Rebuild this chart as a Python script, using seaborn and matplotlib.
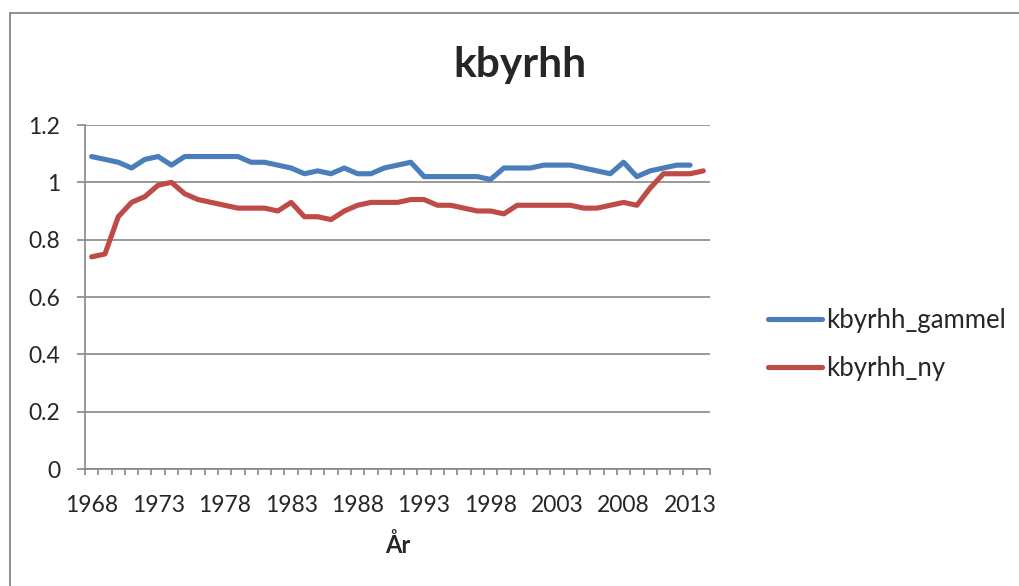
import numpy as np
import pandas as pd
import matplotlib
matplotlib.use("Agg")
import matplotlib.pyplot as plt
from matplotlib.patches import Rectangle
from matplotlib.ticker import FuncFormatter, MultipleLocator
import seaborn as sns

# --- data ---
years_gammel = list(range(1968, 2014))
kbyrhh_gammel = [1.09, 1.08, 1.07, 1.05, 1.08, 1.09, 1.06, 1.09, 1.09, 1.09,
                 1.09, 1.09, 1.07, 1.07, 1.06, 1.05, 1.03, 1.04, 1.03, 1.05,
                 1.03, 1.03, 1.05, 1.06, 1.07, 1.02, 1.02, 1.02, 1.02, 1.02,
                 1.01, 1.05, 1.05, 1.05, 1.06, 1.06, 1.06, 1.05, 1.04, 1.03,
                 1.07, 1.02, 1.04, 1.05, 1.06, 1.06]
years_ny = list(range(1968, 2015))
kbyrhh_ny = [0.74, 0.75, 0.88, 0.93, 0.95, 0.99, 1.00, 0.96, 0.94, 0.93,
             0.92, 0.91, 0.91, 0.91, 0.90, 0.93, 0.88, 0.88, 0.87, 0.90,
             0.92, 0.93, 0.93, 0.93, 0.94, 0.94, 0.92, 0.92, 0.91, 0.90,
             0.90, 0.89, 0.92, 0.92, 0.92, 0.92, 0.92, 0.91, 0.91, 0.92,
             0.93, 0.92, 0.98, 1.03, 1.03, 1.03, 1.04]
series_names = ["kbyrhh_gammel", "kbyrhh_ny"]
colors = ["#4A7EBB", "#BE4B48"]
label_years = list(range(1968, 2014, 5))

df = pd.concat([
    pd.DataFrame({"year": years_gammel, "value": kbyrhh_gammel, "series": series_names[0]}),
    pd.DataFrame({"year": years_ny, "value": kbyrhh_ny, "series": series_names[1]}),
])

sns.set_style("white")
plt.rcParams["font.family"] = ["Lato", "DejaVu Sans"]
GRID = "#878787"

fig = plt.figure(figsize=(10.19, 5.86), dpi=100)
ax = fig.add_axes([85 / 1019, 1 - 469 / 586, 625 / 1019, 344 / 586])

sns.lineplot(data=df, x="year", y="value", hue="series", palette=colors,
             hue_order=series_names, lw=3.7, ax=ax, legend=True)
for ln in ax.get_lines():
    ln.set_solid_capstyle("round")
    ln.set_solid_joinstyle("round")

ax.set_xlim(1967.5, 2014.5)
ax.set_ylim(0, 1.2)
ax.yaxis.set_major_locator(MultipleLocator(0.2))
ax.yaxis.set_major_formatter(FuncFormatter(lambda v, p: f"{v:g}"))
ax.set_xticks(label_years)
ax.set_xticks(np.arange(1967.5, 2015, 1.0), minor=True)
ax.tick_params(axis="x", which="both", bottom=True)
ax.tick_params(axis="y", which="major", left=True)
ax.tick_params(axis="x", which="major", length=0, pad=18.5, labelsize=16.5)
ax.tick_params(axis="x", which="minor", length=4.5, width=1.2, color=GRID)
ax.tick_params(axis="y", which="major", length=5.8, width=1.2, color=GRID, pad=12, labelsize=16.5)
ax.grid(axis="y", color=GRID, lw=1.2)
ax.set_axisbelow(True)
for s in ["top", "right"]:
    ax.spines[s].set_visible(False)
for s in ["left", "bottom"]:
    ax.spines[s].set_color(GRID)
    ax.spines[s].set_linewidth(1.2)

ax.set_ylabel("")
ax.set_xlabel("År", fontsize=17, fontweight="bold", va="baseline")
ax.xaxis.set_label_coords(0.5, (469 - 553) / 344)

handles, labels = ax.get_legend_handles_labels()
ax.legend(handles, labels, loc="center left", bbox_to_anchor=(768 / 1019, 1 - 344.5 / 586),
          bbox_transform=fig.transFigure, frameon=False, fontsize=18.5,
          handlelength=2.1, handletextpad=0.15, labelspacing=0.9,
          borderpad=0, borderaxespad=0)

fig.text(520 / 1019, 1 - 77 / 586, "kbyrhh", fontsize=30.5, fontweight="bold",
         ha="center", va="baseline")

fig.patches.append(Rectangle((10 / 1019, -0.1), 1.2, 1 - 13 / 586 + 0.1,
                             transform=fig.transFigure, fill=False,
                             edgecolor="#868686", lw=1.3))

fig.savefig("out.png", dpi=100)
